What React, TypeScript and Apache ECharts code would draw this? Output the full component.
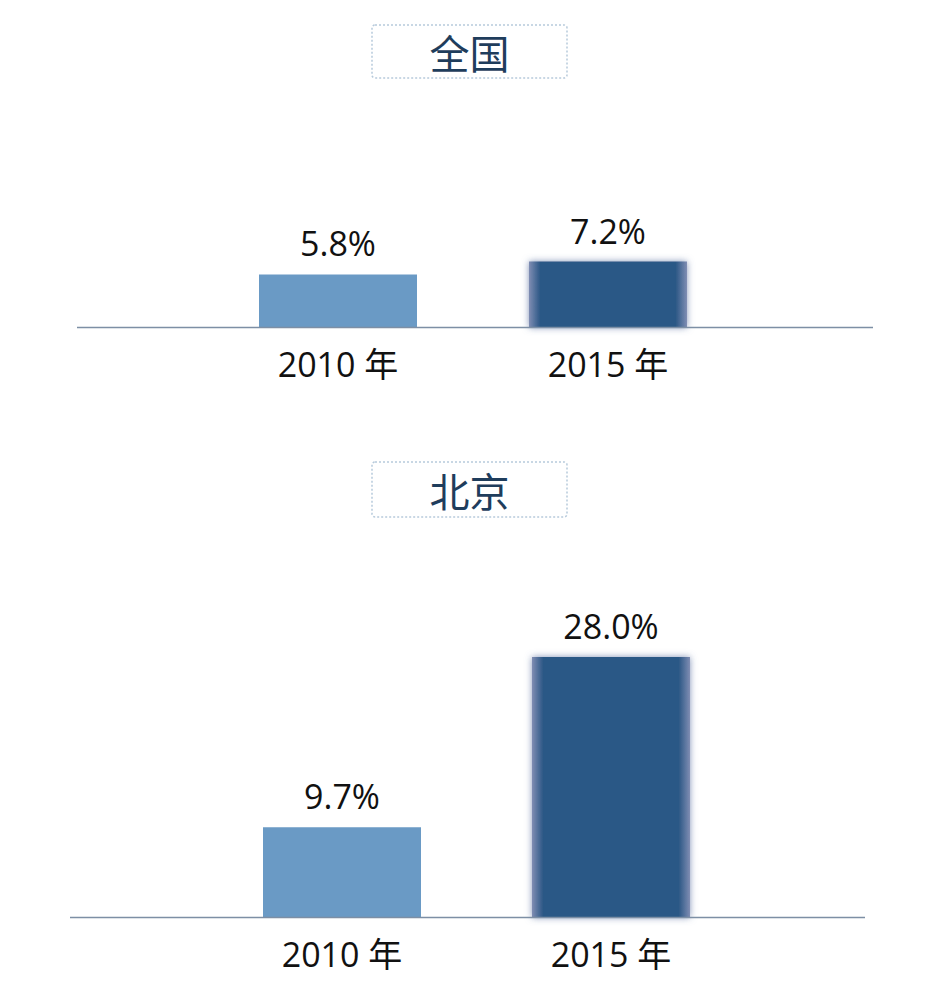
import React, { useEffect, useRef } from "react";
import * as echarts from "echarts";

const categories = ["2010 年", "2015 年"];
const nationalValues = [5.8, 7.2];
const beijingValues = [9.7, 28.0];
const panelTitles = ["全国", "北京"];
const barColors = ["#6a9ac5", "#2c5886"];

const FONT = "'Open Sans', 'Noto Sans CJK SC', sans-serif";

const label = {
  show: true,
  position: "top",
  distance: 14,
  fontSize: 34,
  color: "#111",
  fontFamily: FONT,
  formatter: (p: any) => p.value.toFixed(1) + "%",
};

function softFill() {
  return new echarts.graphic.LinearGradient(0, 0, 1, 0, [
    { offset: 0, color: "#7f8db3" },
    { offset: 0.07, color: barColors[1] },
    { offset: 0.93, color: barColors[1] },
    { offset: 1, color: "#7f8db3" },
  ]);
}

function makeData(vals: number[]) {
  return vals.map((v, i) => ({
    value: v,
    itemStyle:
      i === 1
        ? {
            color: softFill(),
            shadowBlur: 7,
            shadowColor: "rgba(90,110,160,0.75)",
          }
        : { color: barColors[0] },
  }));
}

export default function App() {
  const ref = useRef<HTMLDivElement>(null);
  useEffect(() => {
    if (!ref.current) return;
    const chart = echarts.init(ref.current, null, { renderer: "svg" });
    const xAxisBase = {
      type: "category",
      data: categories,
      axisLine: { show: false },
      axisTick: { show: false },
      axisLabel: { fontSize: 34, color: "#111", fontFamily: FONT, margin: 19 },
    };
    const yAxisBase = {
      type: "value",
      min: 0,
      show: false,
      splitLine: { show: false },
    };
    const titleStyle = {
      fontSize: 40,
      fontFamily: "'Noto Sans CJK SC', sans-serif",
      fill: "#1f3d5c",
      align: "center",
      verticalAlign: "middle",
    };
    chart.setOption({
      animation: false,
      backgroundColor: "#ffffff",
      grid: [
        { left: 203, width: 540, top: 236, height: 91.5 },
        { left: 207.5, width: 538, top: 638.5, height: 279 },
      ],
      xAxis: [
        { ...xAxisBase, gridIndex: 0 },
        { ...xAxisBase, gridIndex: 1 },
      ],
      yAxis: [
        { ...yAxisBase, gridIndex: 0, max: 10 },
        { ...yAxisBase, gridIndex: 1, max: 30 },
      ],
      series: [
        {
          type: "bar",
          xAxisIndex: 0,
          yAxisIndex: 0,
          barWidth: 158,
          data: makeData(nationalValues),
          label,
        },
        {
          type: "bar",
          xAxisIndex: 1,
          yAxisIndex: 1,
          barWidth: 158,
          data: makeData(beijingValues),
          label,
        },
      ],
      graphic: [
        {
          type: "line",
          shape: { x1: 77, y1: 327.5, x2: 873, y2: 327.5 },
          style: { stroke: "#7d8fa5", lineWidth: 1.3 },
          z: 10,
        },
        {
          type: "line",
          shape: { x1: 70, y1: 917.5, x2: 865, y2: 917.5 },
          style: { stroke: "#7d8fa5", lineWidth: 1.3 },
          z: 10,
        },
        {
          type: "rect",
          shape: { x: 372, y: 25, width: 195, height: 53, r: 3 },
          style: { fill: "#ffffff", stroke: "#b7cadb", lineWidth: 1.5, lineDash: [2, 2] },
        },
        {
          type: "text",
          x: 469.5,
          y: 51.5,
          style: { ...titleStyle, text: panelTitles[0] },
        },
        {
          type: "rect",
          shape: { x: 372, y: 462, width: 195, height: 55, r: 3 },
          style: { fill: "#ffffff", stroke: "#b7cadb", lineWidth: 1.5, lineDash: [2, 2] },
        },
        {
          type: "text",
          x: 469.5,
          y: 489.5,
          style: { ...titleStyle, text: panelTitles[1] },
        },
      ],
    });
    return () => chart.dispose();
  }, []);
  return (
    <div
      ref={ref}
      style={{ position: "absolute", left: 0, top: 0, width: 933, height: 1000 }}
    />
  );
}
